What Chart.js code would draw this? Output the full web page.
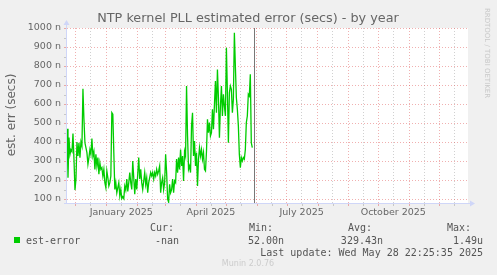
<!DOCTYPE html>
<html>
<head>
<meta charset="utf-8">
<script src="https://cdn.jsdelivr.net/npm/chart.js@4"></script>
<style>
  html, body { margin: 0; padding: 0; background: #f0f0f0; }
  canvas { display: block; }
</style>
</head>
<body>
<canvas id="ntpChart" width="497" height="275"></canvas>
<script>
// daily averages of est-error (nanoseconds), first sample at firstDay
var firstDay = -39.5; // days relative to 1 January 2025
var estError = [
  470, 212, 423, 335, 360, 350, 445, 310, 147, 205, 400, 326, 396, 318, 400, 379,
  680, 520, 396, 370, 344, 283, 318, 360, 335, 418, 326, 350, 256, 335, 274, 318,
  230, 291, 256, 265, 221, 256, 186, 160, 248, 212, 168, 186, 221, 554, 546, 344,
  150, 186, 133, 160, 186, 116, 150, 102, 112, 102, 168, 147, 205, 140, 186, 239,
  186, 150, 300, 212, 125, 205, 150, 230, 318, 205, 256, 186, 150, 195, 239, 177,
  212, 133, 186, 212, 239, 221, 239, 205, 239, 221, 256, 230, 248, 274, 133, 186,
  212, 150, 186, 335, 239, 100, 84, 177, 133, 150, 205, 133, 195, 186, 310, 239,
  318, 256, 360, 274, 326, 195, 350, 326, 695, 432, 256, 274, 239, 485, 554, 326,
  405, 274, 344, 168, 310, 370, 326, 360, 310, 344, 256, 248, 350, 520, 449, 502,
  432, 449, 572, 467, 598, 721, 554, 782, 633, 423, 589, 695, 537, 651, 589, 537,
  896, 660, 396, 660, 695, 677, 554, 625, 975, 800, 633, 572, 485, 335, 265, 318,
  300, 318, 310, 360, 502, 537, 651, 642, 756, 396, 370
];

// month starts (days from 1 Jan 2025), Dec 2024 .. Dec 2025
var monthStarts = [-31, 0, 31, 59, 90, 120, 151, 181, 212, 243, 273, 304, 334];
var xLabelDays = [15, 105, 196, 288];
var xLabels = ["January 2025", "April 2025", "July 2025", "October 2025"];
var yTicks = [100, 150, 200, 250, 300, 350, 400, 450, 500, 550, 600, 650, 700, 750, 800, 850, 900, 950, 1000];
var lastUpdateDay = 147.93;

var legend = {
  name: "est-error",
  cur: "-nan",
  min: "52.00n",
  avg: "329.43n",
  max: "1.49u",
  updated: "Last update: Wed May 28 22:25:35 2025"
};

var majorColor = "rgba(222,79,79,0.45)";
var minorColor = "rgba(143,143,143,0.42)";
var axisColor = "#cfd6f8";
var fontColor = "#666666";

var midMonths = monthStarts.map(function (d) { return d + 15; });

var points = estError.map(function (v, i) {
  return { x: firstDay + i, y: v };
});

var rrdPlugin = {
  id: "rrd",
  beforeDraw: function (chart) {
    var ctx = chart.ctx, a = chart.chartArea;
    ctx.save();
    ctx.fillStyle = "#f0f0f0";
    ctx.fillRect(0, 0, chart.width, chart.height);
    ctx.fillStyle = "#ffffff";
    ctx.fillRect(a.left, a.top, a.right - a.left, a.bottom - a.top);
    ctx.restore();
  },
  afterDatasetsDraw: function (chart) {
    var ctx = chart.ctx, a = chart.chartArea;
    var xs = chart.scales.x, ys = chart.scales.y;
    ctx.save();
    // last update marker
    var nx = Math.round(xs.getPixelForValue(lastUpdateDay)) + 0.5;
    ctx.strokeStyle = "#777777";
    ctx.lineWidth = 1;
    ctx.beginPath();
    ctx.moveTo(nx, a.top);
    ctx.lineTo(nx, a.bottom);
    ctx.stroke();

    // tick marks
    monthStarts.concat(midMonths).forEach(function (d) {
      if (d < xs.min || d > xs.max) return;
      var px = Math.round(xs.getPixelForValue(d)) + 0.5;
      ctx.strokeStyle = monthStarts.indexOf(d) >= 0 ? majorColor : minorColor;
      ctx.beginPath();
      ctx.moveTo(px, a.bottom);
      ctx.lineTo(px, a.bottom + 3);
      ctx.stroke();
    });
    yTicks.forEach(function (v) {
      var py = Math.round(ys.getPixelForValue(v)) + 0.5;
      ctx.strokeStyle = v % 100 === 0 ? majorColor : minorColor;
      ctx.beginPath();
      ctx.moveTo(a.left - 3, py);
      ctx.lineTo(a.left, py);
      ctx.stroke();
    });

    // axes and arrows
    ctx.strokeStyle = axisColor;
    ctx.beginPath();
    ctx.moveTo(a.left - 0.5, a.bottom + 0.5);
    ctx.lineTo(a.left - 0.5, a.top - 4);
    ctx.moveTo(a.left - 3, a.bottom + 0.5);
    ctx.lineTo(a.right + 4, a.bottom + 0.5);
    ctx.stroke();
    ctx.fillStyle = axisColor;
    ctx.beginPath();
    ctx.moveTo(a.left - 3.5, a.top - 3);
    ctx.lineTo(a.left - 0.5, a.top - 8);
    ctx.lineTo(a.left + 2.5, a.top - 3);
    ctx.fill();
    ctx.beginPath();
    ctx.moveTo(a.right + 2, a.bottom - 2.5);
    ctx.lineTo(a.right + 7, a.bottom + 0.5);
    ctx.lineTo(a.right + 2, a.bottom + 3.5);
    ctx.fill();
    ctx.restore();
  },
  afterDraw: function (chart) {
    var ctx = chart.ctx;
    ctx.save();
    ctx.fillStyle = fontColor;
    ctx.textBaseline = "alphabetic";
    ctx.textAlign = "center";
    ctx.font = '12.8px "DejaVu Sans"';
    ctx.fillText("NTP kernel PLL estimated error (secs) - by year", 248, 22);

    ctx.save();
    ctx.translate(14.5, 115);
    ctx.rotate(-Math.PI / 2);
    ctx.font = '12px "DejaVu Sans"';
    ctx.fillText("est. err (secs)", 0, 0);
    ctx.restore();

    ctx.save();
    ctx.translate(485, 53);
    ctx.rotate(Math.PI / 2);
    ctx.fillStyle = "#c8c8c8";
    ctx.font = '7px "DejaVu Sans"';
    ctx.fillText("RRDTOOL / TOBI OETIKER", 0, 0);
    ctx.restore();

    // legend
    ctx.font = '10px "DejaVu Sans Mono"';
    ctx.fillStyle = "#555555";
    ctx.textAlign = "left";
    ctx.fillText("Cur:", 150, 231);
    ctx.fillText("Min:", 249, 231);
    ctx.fillText("Avg:", 348, 231);
    ctx.fillText("Max:", 447, 231);
    ctx.fillText(legend.name, 26, 244);
    ctx.textAlign = "right";
    ctx.fillText(legend.cur, 179, 244);
    ctx.fillText(legend.min, 284, 244);
    ctx.fillText(legend.avg, 383, 244);
    ctx.fillText(legend.max, 483, 244);
    ctx.fillText(legend.updated, 483, 256);
    ctx.fillStyle = "#00cc00";
    ctx.fillRect(14, 237, 6, 6);

    ctx.textAlign = "center";
    ctx.fillStyle = "#cccccc";
    ctx.font = '8px "DejaVu Sans"';
    ctx.fillText("Munin 2.0.76", 248, 266);
    ctx.restore();
  }
};

Chart.defaults.font.family = '"DejaVu Sans"';
Chart.defaults.color = fontColor;

var ntpChart = new Chart(document.getElementById("ntpChart"), {
  type: "line",
  data: {
    datasets: [
      {
        label: legend.name,
        data: points,
        borderColor: "#00cc00",
        borderWidth: 1.3,
        pointRadius: 0,
        fill: false,
        tension: 0
      }
    ]
  },
  options: {
    responsive: false,
    animation: false,
    layout: { padding: { left: 0, top: 28, right: 29, bottom: 0 } },
    plugins: { legend: { display: false }, title: { display: false }, tooltip: { enabled: false } },
    scales: {
      x: {
        type: "linear",
        min: -39.5,
        max: 363,
        afterFit: function (scale) { scale.height = 72; },
        afterBuildTicks: function (scale) {
          scale.ticks = monthStarts.concat(midMonths).map(function (d) { return { value: d }; });
        },
        ticks: {
          autoSkip: false,
          maxRotation: 0,
          padding: 4,
          font: { size: 9.5 },
          color: fontColor,
          callback: function (v) {
            var k = xLabelDays.indexOf(v);
            return k >= 0 ? xLabels[k] : "";
          }
        },
        grid: {
          drawTicks: false,
          color: function (c) {
            return monthStarts.indexOf(c.tick.value) >= 0 ? majorColor : minorColor;
          }
        },
        border: { display: false, dash: [1, 2] }
      },
      y: {
        min: 79,
        max: 1000,
        afterFit: function (scale) { scale.width = 67; },
        afterBuildTicks: function (scale) {
          scale.ticks = yTicks.map(function (v) { return { value: v }; });
        },
        ticks: {
          padding: 6,
          font: { size: 9.5 },
          color: fontColor,
          callback: function (v) { return v % 100 === 0 ? v + " n" : ""; }
        },
        grid: {
          drawTicks: false,
          color: function (c) {
            return c.tick.value % 100 === 0 ? majorColor : minorColor;
          }
        },
        border: { display: false, dash: [1, 2] }
      }
    }
  },
  plugins: [rrdPlugin]
});
</script>
</body>
</html>
